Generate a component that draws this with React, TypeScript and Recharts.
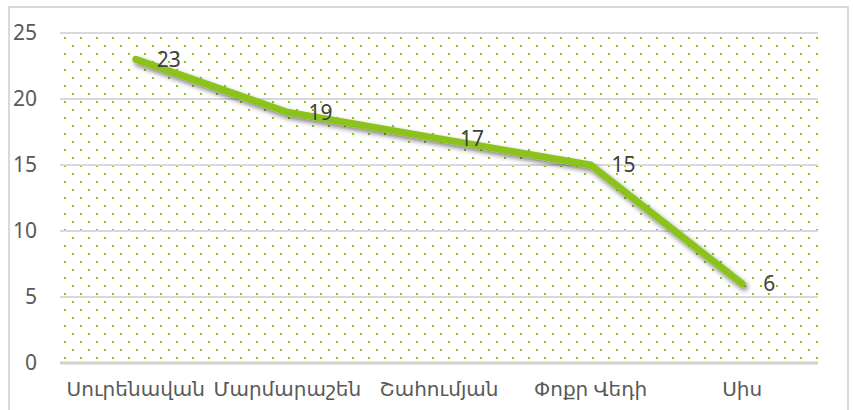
import React from 'react';
import { LineChart, Line, XAxis, YAxis, CartesianGrid, LabelList } from 'recharts';

const categories = ['Սուրենավան', 'Մարմարաշեն', 'Շահումյան', 'Փոքր Վեդի', 'Սիս'];
const values = [23, 19, 17, 15, 6];
const yTicks = [0, 5, 10, 15, 20, 25];

const data = categories.map((c, i) => ({ name: c, value: values[i] }));

const FONT = '"Noto Sans", "DejaVu Sans", sans-serif';

export default function App() {
  return (
    <div style={{ position: 'absolute', left: 0, top: 0, width: 853, height: 410, overflow: 'hidden', background: '#fff' }}>
      <svg width={0} height={0} style={{ position: 'absolute' }}>
        <defs>
          <pattern id="dots" patternUnits="userSpaceOnUse" x={0} y={0} width={16} height={16}>
            <rect x={0} y={5} width={2} height={2} fill="#8cc21e" />
            <rect x={8} y={13} width={2} height={2} fill="#8cc21e" />
          </pattern>
          <filter id="shadow" x="-10%" y="-10%" width="130%" height="140%">
            <feDropShadow dx={2} dy={3} stdDeviation={2.5} floodColor="#000" floodOpacity={0.5} />
          </filter>
        </defs>
      </svg>
      <div style={{ position: 'absolute', left: 8, top: 6, width: 841, height: 420, border: '2px solid #d9d9d9', boxSizing: 'border-box' }} />
      <div style={{ position: 'absolute', left: 0, top: 0 }}>
        <LineChart width={853} height={410} data={data} margin={{ top: 33, right: 35, bottom: 0, left: 0 }}>
          <CartesianGrid vertical={false} stroke="#d9d9d9" strokeWidth={2} fill="url(#dots)" fillOpacity={1} />
          <XAxis
            dataKey="name"
            padding={{ left: 75.8, right: 75.8 }}
            axisLine={{ stroke: '#d0d0d0', strokeWidth: 3 }}
            tickLine={false}
            tickSize={0}
            tickMargin={19}
            height={47}
            interval={0}
            tick={{ fill: '#595959', fontSize: 20, fontFamily: FONT }}
          />
          <YAxis
            domain={[0, 25]}
            ticks={yTicks}
            width={60}
            axisLine={false}
            tickLine={false}
            tickSize={0}
            tickMargin={23}
            tick={{ fill: '#595959', fontSize: 21, fontFamily: FONT }}
          />
          <Line
            type="linear"
            dataKey="value"
            stroke="#8cc21e"
            strokeWidth={7}
            strokeLinecap="round"
            strokeLinejoin="round"
            dot={false}
            activeDot={false}
            isAnimationActive={false}
            style={{ filter: 'url(#shadow)' }}
          >
            <LabelList dataKey="value" position="right" offset={21} fill="#404040" fontSize={21} fontFamily={FONT} />
          </Line>
        </LineChart>
      </div>
    </div>
  );
}
